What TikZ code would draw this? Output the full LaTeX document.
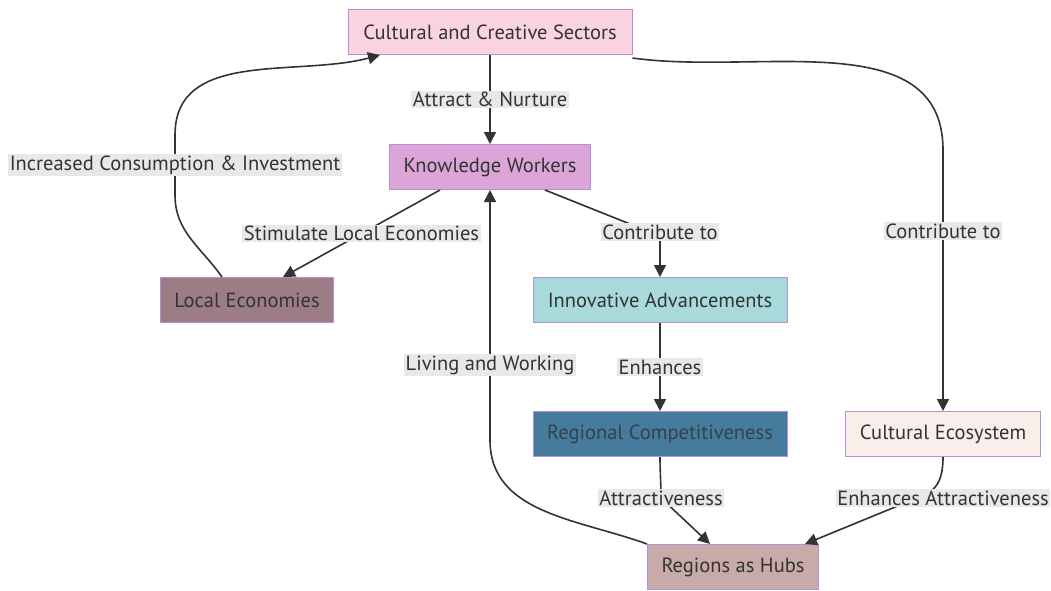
\documentclass[tikz,border=0pt]{standalone}
\usepackage{fontspec}
\setmainfont{PT Sans}
\usetikzlibrary{arrows.meta}

\definecolor{ink}{HTML}{333333}
\definecolor{rim}{HTML}{B48FD6}
\definecolor{lblbg}{HTML}{E8E8E8}
\definecolor{ccsfill}{HTML}{FAD3E2}
\definecolor{kwfill}{HTML}{DBA5D8}
\definecolor{lefill}{HTML}{9C7D86}
\definecolor{iafill}{HTML}{A8DADC}
\definecolor{rcfill}{HTML}{457B9D}
\definecolor{cefill}{HTML}{FAEEEA}
\definecolor{rhfill}{HTML}{C8AAA8}

\begin{document}
\begin{tikzpicture}[x=1pt, y=-1pt, font=\fontsize{20.5}{24}\selectfont,
        -{Triangle[length=12pt,width=12pt]}, line width=1.6pt, color=ink]
      \tikzstyle{box} = [draw=rim, line width=1pt, text=ink, minimum height=45pt, inner xsep=14pt]
      \tikzstyle{lbl} = [fill=lblbg, text=ink, inner sep=1.5pt]
      \useasboundingbox (0,0) rectangle (1051,590);

      % boxes
      \node (CCS) [box, fill=ccsfill, minimum width=284pt] at (490,32) {Cultural and Creative Sectors};
      \node (KW) [box, fill=kwfill, minimum width=200pt] at (490,167) {Knowledge Workers};
      \node (LE) [box, fill=lefill, minimum width=170pt] at (247,300) {Local Economies};
      \node (IA) [box, fill=iafill, minimum width=254pt] at (660,300) {Innovative Advancements};
      \node (RC) [box, fill=rcfill, minimum width=254pt, text=ink!80!rcfill] at (660,434) {Regional Competitiveness};
      \node (CE) [box, fill=cefill, minimum width=193pt] at (943,434) {Cultural Ecosystem};
      \node (RH) [box, fill=rhfill, minimum width=166pt] at (733,567) {Regions as Hubs};

      % edges
      \draw (CCS) -- node [lbl] {Attract \& Nurture} (KW);
      \draw ([xshift=-50pt]KW.south) -- node [lbl] {Stimulate Local Economies} ([xshift=36pt]LE.north);
      \draw ([xshift=55pt]KW.south) -- (635,226) to[out=-24,in=90] (660,232)
        node [lbl] {Contribute to} -- (IA.north);
      \draw ([yshift=-3pt]CCS.south east) to[out=-8,in=90] (943,150)
        -- node [lbl, pos=0.31] {Contribute to} (CE.north);
      \draw ([xshift=-25pt]LE.north) to[out=125,in=-90] (175,195)
        -- node [lbl] {Increased Consumption \& Investment} (175,135)
        to[out=90,in=195] ([xshift=-110pt]CCS.south);
      \draw (IA) -- node [lbl] {Enhances} (RC);
      \draw (RC.south) to[out=-90,in=90] (661,498) node [lbl] {Attractiveness}
        -- ([xshift=-23pt]RH.north);
      \draw (CE.south) .. controls (943,490) and (930,495) .. (900,505)
        node [lbl, at={(943,498)}] {Enhances Attractiveness}
        -- ([xshift=72pt]RH.north);
      \draw (RH.north west) to[out=160,in=-90] (490,440)
        -- node [lbl, pos=0.3] {Living and Working} (KW.south);
    \end{tikzpicture}
\end{document}
